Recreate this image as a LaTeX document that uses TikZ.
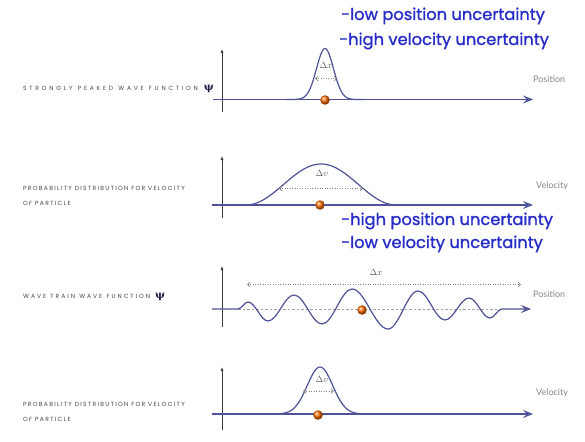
\documentclass[tikz,border=0pt]{standalone}
\usepackage{fontspec}
\usetikzlibrary{arrows.meta}
\newfontfamily\capfont[LetterSpace=22]{Poppins}
\newfontfamily\capwidefont[LetterSpace=46,WordSpace=1.2]{Poppins}
\newfontfamily\capmidfont[LetterSpace=33,WordSpace=1.2]{Poppins}
\newfontfamily\labfont{Lato}
\newfontfamily\handfont[FakeBold=1.2]{Poppins}
\newfontfamily\psifont{DejaVu Serif}
\definecolor{curve}{RGB}{78,82,152}
\definecolor{axisgray}{RGB}{60,60,60}
\definecolor{dashgray}{RGB}{160,160,160}
\definecolor{dotgray}{RGB}{130,130,130}
\definecolor{capgray}{RGB}{70,70,70}
\definecolor{labgray}{RGB}{135,135,135}
\definecolor{dgray}{RGB}{90,90,90}
\definecolor{handblue}{RGB}{38,44,200}
\definecolor{psiblue}{RGB}{30,30,70}
\tikzset{
  curveline/.style={draw=curve, line width=1.2pt},
  xaxis/.style={curveline, -{Stealth[open,length=10pt,width=8pt,inset=4pt]}},
  yaxis/.style={draw=axisgray, line width=0.6pt, -{Latex[length=4pt,width=3pt]}},
  baseline/.style={draw=dashgray, line width=0.6pt, dash pattern=on 2.5pt off 2pt},
  delta/.style={draw=dotgray, line width=0.7pt, dash pattern=on 1pt off 1.5pt,
     {Straight Barb[length=2.5pt,width=4.5pt]}-{Straight Barb[length=2.5pt,width=4.5pt]}},
  particle/.style={circle, minimum size=9.5pt, inner sep=0pt, shading=ball, ball color=orange!85!red},
  caption/.style={anchor=west, inner sep=0pt, align=left, font=\capfont\fontsize{6}{15}\selectfont, text=capgray},
  widecaption/.style={caption, font=\capwidefont\fontsize{6}{15}\selectfont},
  midcaption/.style={caption, font=\capmidfont\fontsize{6}{15}\selectfont},
  axlabel/.style={anchor=west, inner sep=0pt, font=\labfont\fontsize{9}{10}\selectfont, text=labgray},
  dlabel/.style={inner sep=0pt, font=\fontsize{9}{10}\selectfont, text=dgray},
  hand/.style={anchor=base west, inner sep=0pt, font=\handfont\fontsize{16.3}{18}\selectfont, text=handblue}
}
\newcommand{\psisym}{{\psifont\bfseries\fontsize{10.5}{10.5}\selectfont\color{psiblue}ψ}}
\begin{document}
\begin{tikzpicture}[x=1pt,y=-1pt]
\useasboundingbox (0,0) rectangle (585,441);
\fill[white] (0,0) rectangle (585,441);

% ---------- handwritten notes ----------
\node[hand] (h1) at (341,20) {-low position uncertainty};
\node[hand] (h2) at (339,45) {-high velocity uncertainty};
\node[hand] (h3) at (341,225) {-high position uncertainty};
\node[hand] (h4) at (341,248) {-low velocity uncertainty};

% ---------- panel 1 ----------
\node[widecaption] (c1) at (23,88.5) {STRONGLY PEAKED WAVE FUNCTION\hspace{6pt}\psisym};
\coordinate (b1l) at (303,99.5); \coordinate (b1r) at (347,99.5);
\draw[baseline] (b1l) -- (b1r);
\coordinate (y1b) at (222,112); \coordinate (y1t) at (222,49);
\draw[yaxis] (y1b) -- (y1t);
\coordinate (x1s) at (213,99.5); \coordinate (x1e) at (533,99.5);
\draw[xaxis] (x1s) -- (x1e);
\draw[curveline] plot[domain=285:365,samples=81,smooth] (\x,{99.5-51*exp(-((\x-325)/12)^2)});
\coordinate (d1l) at (315,78.5); \coordinate (d1r) at (337,78.5);
\draw[delta] (d1l) -- (d1r);
\node[dlabel] (l1) at (326,65) {$\Delta x$};
\node[particle] (p1) at (325,100) {};
\node[axlabel] (a1) at (533,79) {Position};

% ---------- panel 2 ----------
\node[caption] (c2) at (23,196) {PROBABILITY DISTRIBUTION FOR VELOCITY\\OF PARTICLE};
\coordinate (b2l) at (247,205); \coordinate (b2r) at (397,205);
\draw[baseline] (b2l) -- (b2r);
\coordinate (y2b) at (222,218); \coordinate (y2t) at (222,156);
\draw[yaxis] (y2b) -- (y2t);
\coordinate (x2s) at (212,205); \coordinate (x2e) at (533,205);
\draw[xaxis] (x2s) -- (x2e);
\draw[curveline] plot[domain=246:396,samples=101,smooth] (\x,{205-41*(1+cos(180*(\x-321)/75))/2});
\coordinate (d2l) at (279,188.5); \coordinate (d2r) at (363,188.5);
\draw[delta] (d2l) -- (d2r);
\node[dlabel] (l2) at (322,173.5) {$\Delta v$};
\node[particle] (p2) at (320,205) {};
\node[axlabel] (a2) at (536,186) {Velocity};

% ---------- panel 3 ----------
\node[midcaption] (c3) at (23,297) {WAVE TRAIN WAVE FUNCTION\hspace{5pt}\psisym};
\coordinate (b3l) at (238,309); \coordinate (b3r) at (502,309);
\draw[baseline] (b3l) -- (b3r);
\coordinate (y3b) at (222,327); \coordinate (y3t) at (222,266);
\draw[yaxis] (y3b) -- (y3t);
\coordinate (x3s) at (212,309); \coordinate (x3e) at (531,309);
\coordinate (w0) at (238,309); \coordinate (w11) at (502,309);
\draw[xaxis] (x3s) -- (w0)
  .. controls (241.6,309) and (244.4,302) .. (248,302)
  .. controls (255.3,302) and (260.7,321) .. (268,321)
  .. controls (277.5,321) and (284.5,295) .. (294,295)
  .. controls (304.2,295) and (311.8,324) .. (322,324)
  .. controls (332.9,324) and (341.1,289) .. (352,289)
  .. controls (365.1,289) and (374.9,329) .. (388,329)
  .. controls (398.9,329) and (407.1,291) .. (418,291)
  .. controls (427.8,291) and (435.2,320) .. (445,320)
  .. controls (453.7,320) and (460.3,298) .. (469,298)
  .. controls (476.6,298) and (482.4,318) .. (490,318)
  .. controls (494.4,318) and (497.6,309) .. (w11)
  -- (x3e);
\coordinate (d3l) at (247,284.5); \coordinate (d3r) at (521,284.5);
\draw[delta] (d3l) -- (d3r);
\node[dlabel] (l3) at (376,272) {$\Delta x$};
\node[particle] (p3) at (362,310) {};
\node[axlabel] (a3) at (533,294) {Position};

% ---------- panel 4 ----------
\node[caption] (c4) at (23,411.5) {PROBABILITY DISTRIBUTION FOR VELOCITY\\OF PARTICLE};
\coordinate (b4l) at (280,414); \coordinate (b4r) at (362,414);
\draw[baseline] (b4l) -- (b4r);
\coordinate (y4b) at (222,430); \coordinate (y4t) at (222,367);
\draw[yaxis] (y4b) -- (y4t);
\coordinate (x4s) at (212,414); \coordinate (x4e) at (533,414);
\draw[xaxis] (x4s) -- (x4e);
\draw[curveline] plot[domain=270:370,samples=101,smooth] (\x,{414-47*exp(-((\x-320)/18)^2)});
\coordinate (d4l) at (303,391); \coordinate (d4r) at (334,391);
\draw[delta] (d4l) -- (d4r);
\node[dlabel] (l4) at (322,379.5) {$\Delta v$};
\node[particle] (p4) at (318,415) {};
\node[axlabel] (a4) at (536,393) {Velocity};
\end{tikzpicture}
\end{document}
